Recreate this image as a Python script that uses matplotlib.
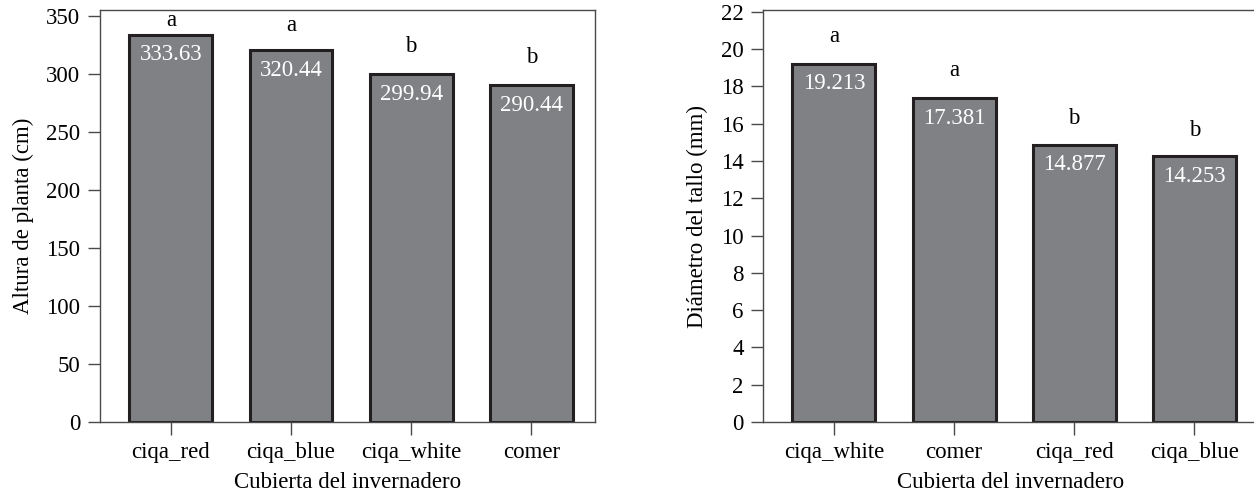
import matplotlib.pyplot as plt

plt.rcParams["font.family"] = ["Liberation Serif", "DejaVu Serif"]
plt.rcParams["font.size"] = 16.5

# left panel: plant height
covers_h = ["ciqa_red", "ciqa_blue", "ciqa_white", "comer"]
height_cm = [333.63, 320.44, 299.94, 290.44]
letters_h = ["a", "a", "b", "b"]

# right panel: stem diameter
covers_d = ["ciqa_white", "comer", "ciqa_red", "ciqa_blue"]
diam_mm = [19.213, 17.381, 14.877, 14.253]
letters_d = ["a", "a", "b", "b"]

BAR = "#808184"
EDGE = "#231f20"
SPINE = "#4a4a4a"

fig = plt.figure(figsize=(12.54, 4.96), dpi=100)
ax1 = fig.add_axes([0.0797, 0.149, 0.3947, 0.831])
ax2 = fig.add_axes([0.6085, 0.149, 0.3947, 0.831])


def draw(ax, cats, vals, letters, fmt, ylim, yticks, ylabel, letter_off):
    x = range(len(cats))
    bars = ax.bar(x, vals, width=0.69, color=BAR, edgecolor=EDGE, linewidth=2.2)
    for b, v, l, off in zip(bars, vals, letters, letter_off):
        cx = b.get_x() + b.get_width() / 2
        ax.annotate(fmt.format(v), (cx, v), xytext=(0, -7), textcoords="offset points",
                    ha="center", va="top", color="white")
        ax.annotate(l, (cx, v), xytext=(0, off), textcoords="offset points",
                    ha="center", va="bottom", color="black")
    ax.set_xticks(list(x))
    ax.set_xticklabels(cats)
    ax.set_xlim(-0.59, len(cats) - 0.47)
    ax.set_ylim(*ylim)
    ax.set_yticks(yticks)
    ax.set_ylabel(ylabel, labelpad=9)
    ax.set_xlabel("Cubierta del invernadero", labelpad=7)
    ax.tick_params(direction="out", length=9, width=1, color=SPINE, pad=5)
    for s in ax.spines.values():
        s.set_color(SPINE)
        s.set_linewidth(1)


draw(ax1, covers_h, height_cm, letters_h, "{:.2f}", (0, 355),
     range(0, 351, 50), "Altura de planta (cm)", [3, 10, 12, 12])
draw(ax2, covers_d, diam_mm, letters_d, "{:.3f}", (0, 22.1),
     range(0, 23, 2), "Diámetro del tallo (mm)", [12, 12, 11, 11])

fig.savefig("out.png", dpi=100)
